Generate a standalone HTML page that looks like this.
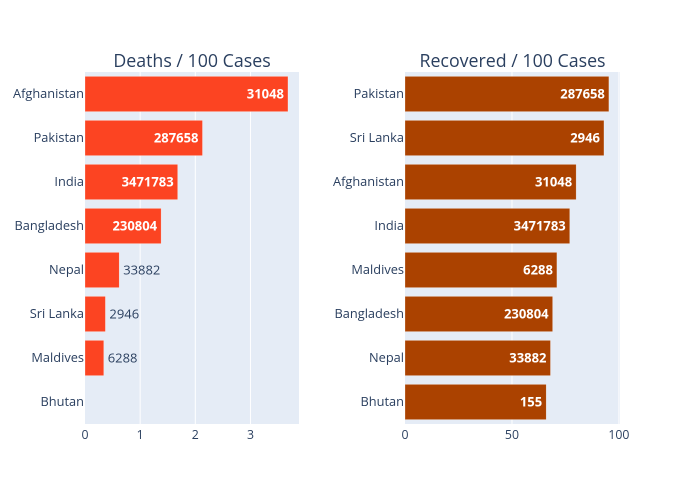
<!DOCTYPE html>
<html><head><meta charset="utf-8"><style>
html,body{margin:0;padding:0;background:#fff;}
svg{display:block;font-family:"Open Sans","Liberation Sans",sans-serif;}
</style></head><body>
<svg id="chart" width="685" height="479" xmlns="http://www.w3.org/2000/svg"></svg>
<script>
const deathCats = ["Afghanistan","Pakistan","India","Bangladesh","Nepal","Sri Lanka","Maldives","Bhutan"];
const deathVals = [3.68,2.13,1.68,1.38,0.62,0.37,0.34,0];
const deathLabels = ["31048","287658","3471783","230804","33882","2946","6288",""];
const recCats = ["Pakistan","Sri Lanka","Afghanistan","India","Maldives","Bangladesh","Nepal","Bhutan"];
const recVals = [95.3,93,80,77,71,69,68,66];
const recLabels = ["287658","2946","31048","3471783","6288","230804","33882","155"];
const deathTicks = [0,1,2,3];
const recTicks = [0,50,100];

const NS="http://www.w3.org/2000/svg";
const svg=document.getElementById('chart');
function mk(t,a,p){const e=document.createElementNS(NS,t);for(const k in a)e.setAttribute(k,a[k]);(p||svg).appendChild(e);return e;}

function panel(cfg){
  const {x0,x1,y0,y1,max,cats,vals,labels,ticks,color,title,name}=cfg;
  const g=mk('g',{});
  
  
  const xs=v=>x0+(x1-x0)*v/max;
  const band=(y1-y0)/cats.length;
  const bg=mk('rect',{x:x0,y:y0,width:x1-x0,height:y1-y0,fill:'#e5ecf6'},g);
  
  
  ticks.forEach(t=>{
    if(t>0){const l=mk('line',{x1:xs(t),x2:xs(t),y1:y0,y2:y1,stroke:'#fff','stroke-width':1},g);
      
      }
    const tx=mk('text',{x:xs(t),y:y1+15,'text-anchor':'middle','font-size':12.3,fill:'#2a3f5f'},g);
    tx.textContent=t;
    
    
  });
  cats.forEach((c,i)=>{
    const by=y0+band*i+band*0.1, bh=band*0.8, cy=y0+band*(i+0.5);
    const w=xs(vals[i])-x0;
    if(w>0){const r=mk('rect',{x:x0,y:by,width:w,height:bh,fill:color,stroke:'rgba(255,255,255,0.5)','stroke-width':0.5},g);
      
      }
    const cl=mk('text',{x:x0-1,y:cy+4,'text-anchor':'end','font-size':12.8,fill:'#2a3f5f'},g);
    cl.textContent=c;
    
    
    if(labels[i]){
      const tw=labels[i].length*7.6;
      let lab;
      if(w>tw+10){lab=mk('text',{x:x0+w-4,y:cy+4.5,'text-anchor':'end','font-size':13,'font-weight':'bold',fill:'#fff'},g);}
      else{lab=mk('text',{x:x0+w+4,y:cy+4.5,'text-anchor':'start','font-size':13,fill:'#2a3f5f'},g);}
      lab.textContent=labels[i];
      
      
    }
  });
  const tt=mk('text',{x:(x0+x1)/2,y:y0-5,'text-anchor':'middle','font-size':17.8,fill:'#2a3f5f'},g);
  tt.textContent=title;
  
  
}
panel({x0:85,x1:299,y0:72,y1:424,max:3.88,cats:deathCats,vals:deathVals,labels:deathLabels,ticks:deathTicks,color:'#fc4422',title:'Deaths / 100 Cases',name:'deaths'});
panel({x0:405,x1:620,y0:72,y1:424,max:100.5,cats:recCats,vals:recVals,labels:recLabels,ticks:recTicks,color:'#ab4200',title:'Recovered / 100 Cases',name:'recovered'});
</script>
</body></html>
